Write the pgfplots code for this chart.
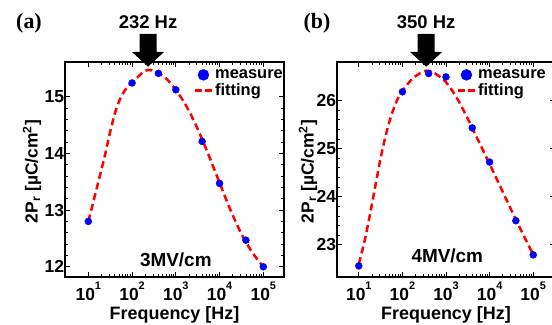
\documentclass[border=0pt]{standalone}
\usepackage{pgfplots}
\pgfplotsset{compat=1.18}
\usepackage{fontspec}
\setmainfont{Liberation Sans}
\newfontfamily\serifb{Liberation Serif}
\newcommand\tp[1]{\bfseries 10\raisebox{11.5bp}{\fontsize{11}{11}\selectfont\bfseries #1}}
\newcommand\legtxt[1]{\fontsize{16.5}{18}\selectfont\bfseries #1}
\tikzset{
  measpl/.style={only marks, mark=*, mark size=3.5bp, blue, mark options={draw=blue, fill=blue}},
  fitpl/.style={red, line width=2.5bp, dash pattern=on 7bp off 4bp, smooth, tension=0.5},
}
\begin{document}
\bfseries
\begin{tikzpicture}
\useasboundingbox (-65bp,-48bp) rectangle (487bp,277bp);
\clip (-65bp,-48bp) rectangle (487bp,277bp);
% ---------------- (a)
\begin{axis}[
  xmode=log,
  scale only axis,
  width=219bp, height=215bp,
  clip=false,
  axis line style={black, line width=1.2bp},
  tick style={black, line width=0.8bp},
  major tick length=5bp, minor tick length=3bp,
  tick align=inside,
  xtick={10,100,1000,10000,100000},
  xticklabels={\tp{1},\tp{2},\tp{3},\tp{4},\tp{5}},
  minor y tick num=4,
  /pgf/number format/assume math mode=true,
  yticklabel style={font=\fontsize{17.5}{17.5}\selectfont\bfseries, xshift=2.5bp},
  xticklabel style={font=\fontsize{17.5}{17.5}\selectfont\bfseries, yshift=-1bp},
  xlabel={Frequency [Hz]},
  xlabel style={font=\fontsize{18}{18}\selectfont\bfseries, at={(rel axis cs:0.5,0)}, anchor=center, yshift=-38bp},
  ylabel={2P\textsubscript{r} [µC/cm\textsuperscript{2}]},
  ylabel style={font=\fontsize{17.5}{17.5}\selectfont\bfseries, at={([xshift=-33bp]rel axis cs:0,0.49)}, anchor=center},
  legend style={draw=none, fill=none,
    at={([xshift=1bp,yshift=-5.5bp]rel axis cs:1,1)}, anchor=north east, inner sep=0bp,
    cells={anchor=west}},
  xmin=2.93, xmax=297000,
  ymin=11.82, ymax=15.61,
  ytick={12,13,14,15},
]
\addplot[fitpl, forget plot] coordinates {
(10,12.80) (13.34,13.18) (17.78,13.56) (23.71,13.95) (31.62,14.38) (42.17,14.75)
(56.23,15.00) (74.99,15.15) (100,15.25) (133.4,15.34) (177.8,15.43) (232,15.47)
(316.2,15.45) (562.3,15.34) (1000,15.12) (1778,14.82) (3162,14.43) (5623,13.97)
(10000,13.48) (17783,13.00) (31623,12.58) (56234,12.25) (100000,12.00)
};
\addplot[measpl, forget plot] coordinates {
(10,12.80) (100,15.24) (400,15.41) (1000,15.12) (4000,14.21) (10000,13.47) (40000,12.47) (100000,12.00)
};
\addlegendimage{only marks, mark=*, mark size=5.5bp, blue}
\addlegendentry{\legtxt{measure}}
\addlegendimage{red, line width=2.5bp, dash pattern=on 7bp off 3bp}
\addlegendentry{\legtxt{fitting}}
\node[font=\fontsize{19}{19}\selectfont\bfseries, anchor=base] at (axis cs:1000,12.0) {3MV/cm};
\coordinate (tipA) at (axis cs:232,15.61);
\node[font=\fontsize{18.5}{18.5}\selectfont\bfseries, anchor=base] at ([yshift=33bp]axis cs:232,15.61) {232 Hz};
\node[font=\fontsize{22}{22}\selectfont\serifb\bfseries, anchor=center] at ([xshift=-36bp,yshift=39bp]rel axis cs:0,1) {(a)};
\end{axis}
\fill[black] ([yshift=-4.7bp]tipA) -- ++(-16bp,14.7bp) -- ++(7.5bp,0) -- ++(0,18bp)
  -- ++(17bp,0) -- ++(0,-18bp) -- ++(7.5bp,0) -- cycle;
% ---------------- (b)
\begin{axis}[at={(272bp,0)}, anchor=south west,
  xmode=log,
  scale only axis,
  width=218bp, height=215bp,
  clip=false,
  axis line style={black, line width=1.2bp},
  tick style={black, line width=0.8bp},
  major tick length=5bp, minor tick length=3bp,
  tick align=inside,
  xtick={10,100,1000,10000,100000},
  xticklabels={\tp{1},\tp{2},\tp{3},\tp{4},\tp{5}},
  minor y tick num=4,
  /pgf/number format/assume math mode=true,
  yticklabel style={font=\fontsize{17.5}{17.5}\selectfont\bfseries, xshift=2.5bp},
  xticklabel style={font=\fontsize{17.5}{17.5}\selectfont\bfseries, yshift=-1bp},
  xlabel={Frequency [Hz]},
  xlabel style={font=\fontsize{18}{18}\selectfont\bfseries, at={(rel axis cs:0.5,0)}, anchor=center, yshift=-38bp},
  ylabel={2P\textsubscript{r} [µC/cm\textsuperscript{2}]},
  ylabel style={font=\fontsize{17.5}{17.5}\selectfont\bfseries, at={([xshift=-29bp]rel axis cs:0,0.49)}, anchor=center},
  legend style={draw=none, fill=none,
    at={([xshift=-7bp,yshift=-5.5bp]rel axis cs:1,1)}, anchor=north east, inner sep=0bp,
    cells={anchor=west}},
  xmin=3.162, xmax=316200,
  ymin=22.33, ymax=26.80,
  ytick={23,24,25,26},
]
\addplot[fitpl, forget plot] coordinates {
(10,22.60) (13.34,23.05) (17.78,23.60) (23.71,24.20) (31.62,24.80) (42.17,25.30)
(56.23,25.70) (74.99,26.00) (100,26.20) (177.8,26.47) (350,26.62) (562.3,26.56)
(1000,26.38) (1778,26.05) (3162,25.62) (5623,25.15) (10000,24.68) (17783,24.20)
(31623,23.72) (56234,23.25) (100000,22.80)
};
\addplot[measpl, forget plot] coordinates {
(10,22.56) (100,26.18) (400,26.56) (1000,26.49) (4000,25.43) (10000,24.72) (40000,23.50) (100000,22.79)
};
\addlegendimage{only marks, mark=*, mark size=5.5bp, blue}
\addlegendentry{\legtxt{measure}}
\addlegendimage{red, line width=2.5bp, dash pattern=on 7bp off 3bp}
\addlegendentry{\legtxt{fitting}}
\node[font=\fontsize{19}{19}\selectfont\bfseries, anchor=base] at (axis cs:1070,22.63) {4MV/cm};
\coordinate (tipB) at (axis cs:350,26.80);
\node[font=\fontsize{18.5}{18.5}\selectfont\bfseries, anchor=base] at ([yshift=33bp]axis cs:350,26.80) {350 Hz};
\node[font=\fontsize{22}{22}\selectfont\serifb\bfseries, anchor=center] at ([xshift=-20bp,yshift=39bp]rel axis cs:0,1) {(b)};
\end{axis}
\fill[black] ([yshift=-4.7bp]tipB) -- ++(-16bp,14.7bp) -- ++(7.5bp,0) -- ++(0,18bp)
  -- ++(17bp,0) -- ++(0,-18bp) -- ++(7.5bp,0) -- cycle;
\end{tikzpicture}
\end{document}
